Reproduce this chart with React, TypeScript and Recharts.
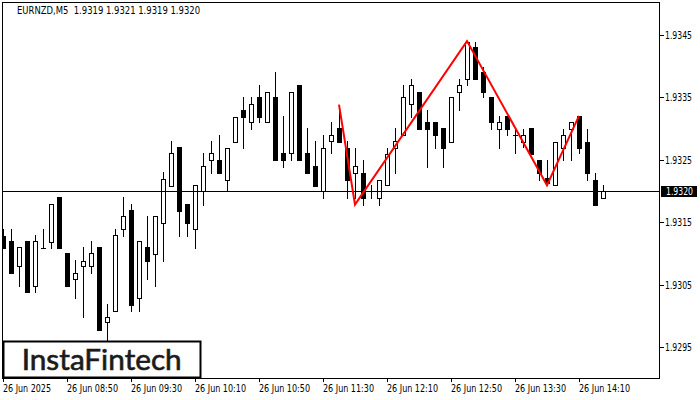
import { Bar, ComposedChart, Line, ReferenceLine, XAxis, YAxis } from "recharts";

// EURNZD M5 candles (bar 0 = 08:10)
const opens = [
  1.93129, 1.9312, 1.9308, 1.9312, 1.93049, 1.9311, 1.93119, 1.93191, 1.93101, 1.9306,
  1.9308, 1.9308, 1.93111, 1.9299, 1.93009, 1.93139, 1.9317, 1.9303, 1.93111, 1.931,
  1.9315, 1.93209, 1.93271, 1.9318, 1.93139, 1.932, 1.9325, 1.9325, 1.93219, 1.9328,
  1.9333, 1.93311, 1.93351, 1.93311, 1.93351, 1.93261, 1.93261, 1.9337, 1.93261, 1.93241,
  1.932, 1.93281, 1.93301, 1.9327, 1.9323, 1.9323, 1.932, 1.9319, 1.9321, 1.9327,
  1.9329, 1.9334, 1.9336, 1.93311, 1.93311, 1.93301, 1.9328, 1.9336, 1.9338, 1.93431,
  1.93391, 1.93351, 1.933, 1.93321, 1.93291, 1.9328, 1.93301, 1.9325, 1.93221, 1.9321,
  1.9327, 1.933, 1.93321, 1.9328, 1.93219, 1.9319,
];
const highs = [
  1.9314, 1.9314, 1.93111, 1.9312, 1.9313, 1.9314, 1.9318, 1.93191, 1.93101, 1.9309,
  1.93111, 1.9312, 1.93111, 1.93019, 1.9314, 1.93191, 1.9318, 1.9312, 1.9316, 1.9316,
  1.93231, 1.93281, 1.93271, 1.9318, 1.9321, 1.93261, 1.93281, 1.9329, 1.9327, 1.9332,
  1.93351, 1.93351, 1.9337, 1.9336, 1.93391, 1.93321, 1.9336, 1.9337, 1.93301, 1.93281,
  1.9329, 1.93311, 1.93339, 1.93281, 1.9327, 1.9325, 1.9321, 1.93219, 1.9327, 1.93301,
  1.9337, 1.9338, 1.9336, 1.9333, 1.93311, 1.93301, 1.93351, 1.9338, 1.93441, 1.9344,
  1.934, 1.93351, 1.93321, 1.93321, 1.933, 1.933, 1.93301, 1.9325, 1.9325, 1.9328,
  1.933, 1.93311, 1.93321, 1.933, 1.9323, 1.9321,
];
const lows = [
  1.9311, 1.9307, 1.93048, 1.93039, 1.93039, 1.9311, 1.9311, 1.9311, 1.93049, 1.9303,
  1.92999, 1.9307, 1.92978, 1.92962, 1.93009, 1.93129, 1.93009, 1.93009, 1.9306, 1.93049,
  1.93089, 1.93209, 1.93129, 1.93129, 1.9311, 1.93179, 1.9323, 1.9323, 1.932, 1.9328,
  1.9327, 1.933, 1.93311, 1.93311, 1.9325, 1.93239, 1.9325, 1.9325, 1.9323, 1.93209,
  1.9319, 1.93261, 1.9328, 1.9319, 1.9319, 1.93179, 1.9319, 1.93179, 1.9321, 1.9323,
  1.9329, 1.9332, 1.933, 1.93239, 1.9327, 1.93239, 1.9328, 1.9333, 1.9337, 1.9338,
  1.93351, 1.933, 1.9327, 1.9329, 1.93261, 1.93271, 1.9326, 1.93219, 1.9321, 1.9321,
  1.9325, 1.9325, 1.93261, 1.93219, 1.93179, 1.9319,
];
const closes = [
  1.9311, 1.9307, 1.93111, 1.93039, 1.9312, 1.9311, 1.9318, 1.9311, 1.93049, 1.9307,
  1.93089, 1.93101, 1.92978, 1.92999, 1.9313, 1.9316, 1.93018, 1.9312, 1.93089, 1.9316,
  1.9322, 1.93261, 1.93169, 1.9315, 1.9321, 1.93241, 1.93261, 1.9323, 1.9327, 1.9332,
  1.9332, 1.9334, 1.9332, 1.9336, 1.9325, 1.9325, 1.9336, 1.9325, 1.9323, 1.93209,
  1.9327, 1.9329, 1.9328, 1.93219, 1.9324, 1.9319, 1.932, 1.93219, 1.9326, 1.93281,
  1.93351, 1.9337, 1.933, 1.933, 1.9329, 1.9327, 1.93351, 1.9337, 1.9344, 1.9338,
  1.9336, 1.93311, 1.93311, 1.933, 1.93291, 1.93291, 1.9326, 1.9323, 1.93213, 1.9328,
  1.9329, 1.93311, 1.9327, 1.9323, 1.93179, 1.932,
];

const timeTicks = [0, 8, 16, 24, 32, 40, 48, 56, 64, 72];
const timeLabels = [
  "26 Jun 2025", "26 Jun 08:50", "26 Jun 09:30", "26 Jun 10:10", "26 Jun 10:50",
  "26 Jun 11:30", "26 Jun 12:10", "26 Jun 12:50", "26 Jun 13:30", "26 Jun 14:10",
];
const priceTicks = [1.9295, 1.9305, 1.9315, 1.9325, 1.9335, 1.9345];

// red pattern (bar index -> price)
const patternBars = [42, 44, 58, 68, 72];
const patternPrices = [1.93339, 1.93179, 1.93441, 1.9321, 1.93321];

const lastPrice = 1.932;

const data = opens.map((o, i) => {
  const k = patternBars.indexOf(i);
  return {
    i,
    o,
    h: highs[i],
    l: lows[i],
    c: closes[i],
    range: [lows[i], highs[i]],
    pattern: k >= 0 ? patternPrices[k] : null,
  };
});

const FONT = "'DejaVu Sans', sans-serif";

const Candle = (props: any) => {
  const { x, y, width, height, payload } = props;
  const { o, h, l, c } = payload;
  const cx = Math.round(x + width / 2);
  const py = (v: number) => (h === l ? y : y + ((h - v) / (h - l)) * height);
  const top = Math.round(py(Math.max(o, c)));
  const bot = Math.round(py(Math.min(o, c)));
  const up = c >= o;
  let body;
  if (bot - top < 1) {
    body = <line x1={cx - 2} x2={cx + 3} y1={top + 0.5} y2={top + 0.5} stroke="#000" />;
  } else if (up) {
    body = (
      <rect x={cx - 1.5} y={top + 0.5} width={4} height={bot - top} fill="#fff" stroke="#000" />
    );
  } else {
    body = <rect x={cx - 2} y={top} width={5} height={bot - top + 1} fill="#000" />;
  }
  return (
    <g>
      <line
        x1={cx + 0.5}
        x2={cx + 0.5}
        y1={Math.round(y)}
        y2={Math.round(y + height) + 1}
        stroke="#000"
      />
      {body}
    </g>
  );
};

const TimeTick = ({ x, payload }: any) => {
  const label = timeLabels[timeTicks.indexOf(payload.value)] || "";
  return (
    <text
      x={x}
      y={392}
      fontSize={10}
      fontFamily={FONT}
      fill="#000"
      textLength={label.length === 11 ? 48 : 51}
      lengthAdjust="spacingAndGlyphs"
    >
      {label}
    </text>
  );
};

const PriceTick = ({ y, payload }: any) => (
  <text
    x={665}
    y={y + 3.5}
    fontSize={10}
    fontFamily={FONT}
    fill="#000"
    textLength={27}
    lengthAdjust="spacingAndGlyphs"
  >
    {payload.value.toFixed(4)}
  </text>
);

const PriceTag = (props: any) => {
  const { x, y, width } = props.viewBox;
  const left = x + width + 1;
  const cy = Math.round(y);
  return (
    <g>
      <rect x={left} y={cy - 5} width={36} height={11} fill="#000" />
      <text
        x={left + 5}
        y={cy + 4}
        fontSize={10}
        fontFamily={FONT}
        fill="#fff"
        textLength={27}
        lengthAdjust="spacingAndGlyphs"
      >
        {lastPrice.toFixed(4)}
      </text>
    </g>
  );
};

export default function App() {
  return (
    <div style={{ position: "absolute", left: 0, top: 0, width: 700, height: 400, background: "#fff" }}>
      <ComposedChart
        width={700}
        height={400}
        data={data}
        margin={{ top: 3, left: 3, right: 0, bottom: 0 }}
      >
        <XAxis
          type="number"
          dataKey="i"
          domain={[0, 82.125]}
          allowDataOverflow
          ticks={timeTicks}
          tick={<TimeTick />}
          tickSize={4}
          tickLine={{ stroke: "#000", shapeRendering: "crispEdges" }}
          axisLine={false}
          height={22}
          interval={0}
        />
        <YAxis
          orientation="right"
          domain={[1.92901, 1.93502]}
          allowDataOverflow
          ticks={priceTicks}
          tick={<PriceTick />}
          tickSize={4}
          tickLine={{ stroke: "#000", shapeRendering: "crispEdges" }}
          axisLine={false}
          width={40}
          interval={0}
        />
        <ReferenceLine
          y={lastPrice}
          stroke="#000"
          strokeWidth={1}
          shapeRendering="crispEdges"
          label={(p: any) => <PriceTag {...p} />}
        />
        <Bar dataKey="range" barSize={5} shape={<Candle />} isAnimationActive={false} />
        <Line
          dataKey="pattern"
          type="linear"
          stroke="#ff0000"
          strokeWidth={2}
          dot={false}
          connectNulls
          isAnimationActive={false}
        />
      </ComposedChart>
      <svg
        width={700}
        height={400}
        style={{ position: "absolute", left: 0, top: 0, pointerEvents: "none" }}
      >
        {/* white strip hides the half candle left of the frame */}
        <rect x={0} y={3} width={2} height={375} fill="#fff" />
        <rect x={2.5} y={2.5} width={657} height={376} fill="none" stroke="#000" />
        <text
          x={17}
          y={13.5}
          fontSize={10}
          fontFamily={FONT}
          fill="#000"
          textLength={183}
          lengthAdjust="spacingAndGlyphs"
          style={{ whiteSpace: "pre" }}
        >
          {"EURNZD,M5  1.9319 1.9321 1.9319 1.9320"}
        </text>
        <rect x={3.5} y={341.5} width={197} height={36} fill="#fff" stroke="#000" strokeWidth={2} />
        <text
          x={21.7}
          y={369.7}
          fontSize={28}
          fontFamily="Lato, 'Noto Sans', sans-serif"
          fill="#1b1b1b"
          stroke="#1b1b1b"
          strokeWidth={0.6}
          textLength={160}
          lengthAdjust="spacingAndGlyphs"
        >
          InstaFintech
        </text>
      </svg>
    </div>
  );
}
